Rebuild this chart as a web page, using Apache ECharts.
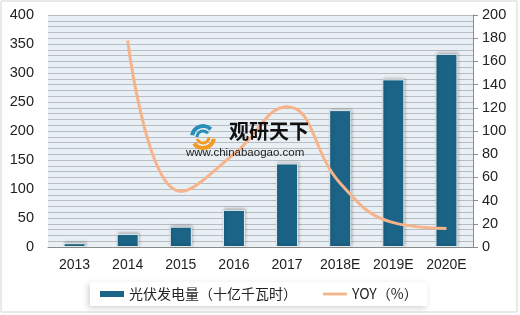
<!DOCTYPE html>
<html><head><meta charset="utf-8">
<script src="https://cdn.jsdelivr.net/npm/echarts@6/dist/echarts.min.js"></script>
<style>html,body{margin:0;padding:0;background:#fff}#c{width:520px;height:315px}</style>
</head><body><div id="c"></div>
<script>
const categories = ['2013','2014','2015','2016','2017','2018E','2019E','2020E'];
const generation = [6.5, 22.5, 35, 64, 144, 236, 289, 333];
const yoy = [null, 178, 48, 80, 121, 55, 21, 16];
const leftTicks = [0, 400, 50];
const rightTicks = [0, 200, 20];

const chart = echarts.init(document.getElementById('c'), null, {renderer:'canvas'});
const font = '"Liberation Sans", Arial, sans-serif';
chart.setOption({
  animation:false,
  backgroundColor:'#fff',
  grid:{left:48,right:47,top:15,bottom:68,show:true,backgroundColor:'#E8EFF5',borderWidth:0},
  legend:{
    bottom:9,left:90,itemGap:26,
    backgroundColor:'#fff',
    shadowColor:'rgba(0,0,0,0.18)',shadowBlur:6,shadowOffsetY:2,shadowOffsetX:-2,
    padding:[5,10,5,10],
    textStyle:{fontSize:14,color:'#222',fontFamily:'"Noto Sans CJK SC", sans-serif'},
    data:[
      {name:'光伏发电量（十亿千瓦时）',icon:'path://M0,0H24V6H0Z',itemStyle:{borderWidth:0,shadowBlur:0}},
      {name:'YOY（%）',icon:'path://M0,0H26V3H0Z',itemStyle:{color:'#F7B38A',borderWidth:0}}
    ],
    itemWidth:24,itemHeight:6
  },
  xAxis:{type:'category',data:categories,
    axisLine:{lineStyle:{color:'#8C8C8C'}},axisTick:{show:false},
    axisLabel:{color:'#222',fontSize:14,margin:11,fontFamily:font,interval:0}},
  yAxis:[
    {type:'value',min:leftTicks[0],max:leftTicks[1],interval:leftTicks[2],
     axisLine:{show:false},axisTick:{show:false},
     axisLabel:{color:'#222',fontSize:14.5,margin:14,fontFamily:font},
     splitLine:{lineStyle:{color:'#B9BDC1',width:1}},
     minorTick:{show:false,splitNumber:5},
     minorSplitLine:{show:true,lineStyle:{color:'#B9BDC1',width:1}}},
    {type:'value',min:rightTicks[0],max:rightTicks[1],interval:rightTicks[2],
     axisLine:{show:true,lineStyle:{color:'#8C8C8C'}},
     axisTick:{show:true,inside:false,length:5,lineStyle:{color:'#8C8C8C'}},
     axisLabel:{color:'#222',fontSize:14.5,margin:9,fontFamily:font},
     splitLine:{show:false}}
  ],
  series:[
    {name:'光伏发电量（十亿千瓦时）',type:'bar',data:generation,barWidth:22,
     itemStyle:{color:'#1B6487',borderColor:'#E4EAEE',borderWidth:1,
       shadowColor:'rgba(0,0,0,0.25)',shadowBlur:3,shadowOffsetX:1,shadowOffsetY:-1}},
    {name:'YOY（%）',type:'line',yAxisIndex:1,data:yoy,smooth:0.45,
     showSymbol:false,symbol:'none',
     lineStyle:{color:'#F7B38A',width:3},itemStyle:{color:'#F7B38A'}}
  ],
  graphic:[
    {type:'rect',shape:{x:1,y:1,width:516,height:311},style:{fill:'none',stroke:'#D4D4D4',lineWidth:1},silent:true,z:-1},
    {type:'arc',shape:{cx:203,cy:137,r:11,startAngle:Math.PI*1.05,endAngle:Math.PI*1.75},style:{stroke:'#2A8FB8',lineWidth:4,fill:'none'},z:10},
    {type:'arc',shape:{cx:203,cy:137,r:6,startAngle:Math.PI*1.0,endAngle:Math.PI*1.8},style:{stroke:'#2A8FB8',lineWidth:3,fill:'none'},z:10},
    {type:'arc',shape:{cx:203,cy:137,r:11,startAngle:Math.PI*0.05,endAngle:Math.PI*0.8},style:{stroke:'#F29A21',lineWidth:4,fill:'none'},z:10},
    {type:'arc',shape:{cx:203,cy:137,r:6,startAngle:Math.PI*0.0,endAngle:Math.PI*0.9},style:{stroke:'#F29A21',lineWidth:3,fill:'none'},z:10},
    {type:'text',left:229,top:121,style:{text:'观研天下',fill:'#111',font:'bold 20px "Noto Sans CJK SC", sans-serif'},z:10},
    {type:'text',left:186,top:147,style:{text:'www.chinabaogao.com',fill:'#222',font:'11.5px "Liberation Sans", Arial, sans-serif'},z:10}
  ]
});
</script></body></html>
